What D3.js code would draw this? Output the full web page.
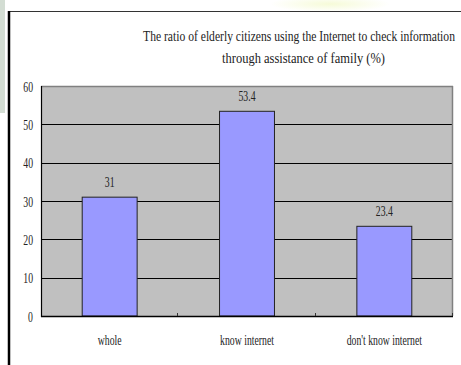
<!DOCTYPE html>
<html>
<head>
<meta charset="utf-8">
<script src="https://cdn.jsdelivr.net/npm/d3@7"></script>
<style>
html,body{margin:0;padding:0;background:#fff;}
svg{display:block;}
text{font-family:"Liberation Serif","Times New Roman",serif;fill:#222;}
</style>
</head>
<body>
<script>
const categories = ["whole", "know internet", "don't know internet"];
const values = [31, 53.4, 23.4];
const valueLabels = ["31", "53.4", "23.4"];
const yTicks = [0, 10, 20, 30, 40, 50, 60];
const titleLines = ["The ratio of elderly citizens using the Internet to check information", "through assistance of family (%)"];

(function () {
const W = 461, H = 365;
const svg = d3.select("body").append("svg").attr("width", W).attr("height", H);

// decorations
svg.append("rect").attr("x", 0).attr("y", 0).attr("width", 5).attr("height", 113).attr("fill", "#d3ddd3");
const grad = svg.append("defs").append("radialGradient").attr("id", "yg");
grad.append("stop").attr("offset", "0%").attr("stop-color", "#f6fbd8");
grad.append("stop").attr("offset", "100%").attr("stop-color", "#ffffff");
svg.append("ellipse").attr("cx", 330).attr("cy", 4).attr("rx", 60).attr("ry", 8).attr("fill", "url(#yg)");
svg.append("line").attr("x1", 9).attr("x2", W).attr("y1", 11.5).attr("y2", 11.5).attr("stroke", "#333").attr("stroke-width", 1);
svg.append("line").attr("x1", 9).attr("x2", 9).attr("y1", 11).attr("y2", H).attr("stroke", "#000").attr("stroke-width", 2.5);

const pL = 41, pR = 453, pT = 86, pB = 316;
const x = d3.scaleBand().domain(categories).range([pL, pR]).paddingInner(0.6).paddingOuter(0.3);
const y = d3.scaleLinear().domain([0, 60]).range([pB, pT]);

// plot area
svg.append("rect").attr("x", pL).attr("y", pT).attr("width", pR - pL).attr("height", pB - pT).attr("fill", "#c0c0c0");

// gridlines
svg.append("g").selectAll("line").data(yTicks.filter(d => d > 0 && d < 60)).join("line")
  .attr("x1", pL).attr("x2", pR)
  .attr("y1", d => Math.round(y(d)) + 0.5).attr("y2", d => Math.round(y(d)) + 0.5)
  .attr("stroke", "#000").attr("stroke-width", 1);

// top and right border
svg.append("line").attr("x1", pL).attr("x2", pR).attr("y1", pT + 0.5).attr("y2", pT + 0.5).attr("stroke", "#808080").attr("stroke-width", 1.5);
svg.append("line").attr("x1", pR - 0.5).attr("x2", pR - 0.5).attr("y1", pT).attr("y2", pB).attr("stroke", "#808080").attr("stroke-width", 1.5);

// bars
svg.append("g").selectAll("rect").data(values).join("rect")
  .attr("x", (d, i) => x(categories[i]))
  .attr("y", d => y(d))
  .attr("width", x.bandwidth())
  .attr("height", d => y(0) - y(d))
  .attr("fill", "#9999ff")
  .attr("stroke", "#222").attr("stroke-width", 1);

// axes
svg.append("line").attr("x1", pL).attr("x2", pR).attr("y1", pB + 0.5).attr("y2", pB + 0.5).attr("stroke", "#000").attr("stroke-width", 1.5);
svg.append("line").attr("x1", pL + 0.5).attr("x2", pL + 0.5).attr("y1", pT).attr("y2", pB + 1).attr("stroke", "#000").attr("stroke-width", 1.2);

// category boundary ticks
const tickXs = [1, 2, 3].map(k => pL + k * (pR - pL) / categories.length);
svg.append("g").selectAll("line").data(tickXs).join("line")
  .attr("x1", d => Math.round(d) - 0.5).attr("x2", d => Math.round(d) - 0.5)
  .attr("y1", pB - 3).attr("y2", pB)
  .attr("stroke", "#333").attr("stroke-width", 1);

const sx = 0.65;
function condensed(g, tx, ty, txt, anchor, size) {
  g.append("text")
    .attr("transform", `translate(${tx},${ty}) scale(${sx},1)`)
    .attr("text-anchor", anchor)
    .attr("font-size", size)
    .text(txt);
}

// y tick labels
const yl = svg.append("g");
yTicks.forEach(t => condensed(yl, 33, y(t) + 5.5, String(t), "end", 15));

// category labels
const xl = svg.append("g");
categories.forEach(c => condensed(xl, x(c) + x.bandwidth() / 2, 345, c, "middle", 15));

// value labels
const vl = svg.append("g");
values.forEach((v, i) => condensed(vl, x(categories[i]) + x.bandwidth() / 2, y(v) - 10, valueLabels[i], "middle", 15));

// title: condensed via transform scale fitted to target width
const titleW = [312, 163];
const titleX = [299, 303.5];
const titleY = [41, 63];
titleLines.forEach((t, i) => {
  const el = svg.append("text")
    .attr("text-anchor", "middle")
    .attr("font-size", 15)
    .text(t);
  const natural = el.node().getComputedTextLength();
  const k = titleW[i] / natural;
  el.attr("transform", `translate(${titleX[i]},${titleY[i]}) scale(${k},1)`);
});
})();
</script>
</body>
</html>
